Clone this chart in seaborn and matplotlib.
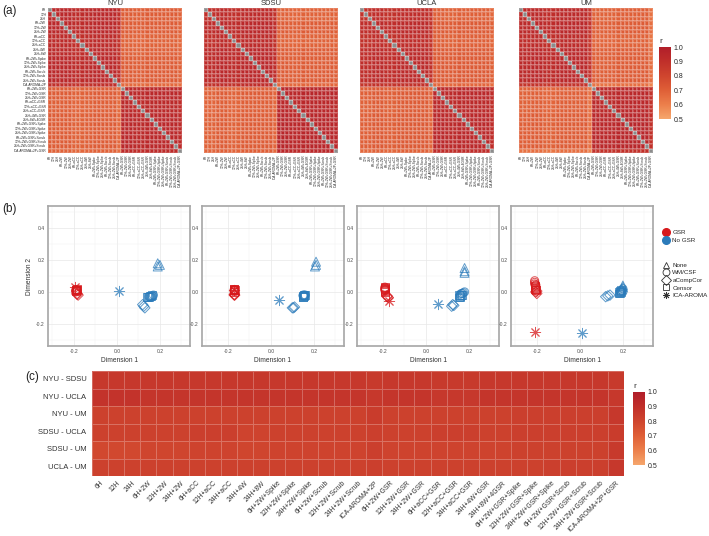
#Libraries----------------------------------------------------------------------

import numpy as np
import pandas as pd
import seaborn as sns
import matplotlib
matplotlib.use("Agg")
import matplotlib.pyplot as plt
from matplotlib.colors import LinearSegmentedColormap
from matplotlib.lines import Line2D


##Data----------------------------------------------------------------------

pipelines = ["6H", "12H", "24H", "6H+2W", "12H+2W", "24H+2W", "6H+aCC", "12H+aCC",
             "24H+aCC", "24H+4W", "24H+8W", "6H+2W+Spike", "12H+2W+Spike",
             "24H+2W+Spike", "6H+2W+Scrub", "12H+2W+Scrub", "24H+2W+Scrub",
             "ICA-AROMA+2P", "6H+2W+GSR", "12H+2W+GSR", "24H+2W+GSR", "6H+aCC+GSR",
             "12H+aCC+GSR", "24H+aCC+GSR", "24H+4W+GSR", "24H+8W+4GSR",
             "6H+2W+GSR+Spike", "12H+2W+GSR+Spike", "24H+2W+GSR+Spike",
             "6H+2W+GSR+Scrub", "12H+2W+GSR+Scrub", "24H+2W+GSR+Scrub",
             "ICA-AROMA+2P+GSR"]
gsr = ["No GSR"] * 18 + ["GSR"] * 15
strategy = (["None"] * 3 + ["WM/CSF"] * 3 + ["aCompCor"] * 3 + ["WM/CSF"] * 2
            + ["Censor"] * 6 + ["ICA-AROMA"]
            + ["WM/CSF"] * 3 + ["aCompCor"] * 3 + ["WM/CSF"] * 2
            + ["Censor"] * 6 + ["ICA-AROMA"])

sites = ["NYU", "SDSU", "UCLA", "UM"]

# (a) block level similarity per site: no-GSR block, GSR block, between blocks
within_nogsr = [0.94, 0.94, 0.93, 0.94]
within_gsr = [0.94, 0.95, 0.94, 0.95]
between = [0.71, 0.71, 0.72, 0.71]
# how far each pipeline sits from the rest of its block
nyu_dev = [0.00, 0.00, 0.00, 0.00, 0.00, 0.00, 0.02, 0.02, 0.02, 0.01, 0.01, 0.00,
           0.00, 0.00, 0.00, 0.00, 0.00, 0.04, 0.00, 0.00, 0.00, 0.01, 0.01, 0.01,
           0.00, 0.00, 0.00, 0.00, 0.00, 0.00, 0.00, 0.00, 0.02]
sdsu_dev = [0.02, 0.02, 0.02, 0.00, 0.00, 0.00, 0.02, 0.02, 0.02, 0.00, 0.00, 0.00,
            0.00, 0.00, 0.00, 0.00, 0.00, 0.03, 0.00, 0.00, 0.00, 0.01, 0.01, 0.01,
            0.00, 0.00, 0.00, 0.00, 0.00, 0.00, 0.00, 0.00, 0.01]
ucla_dev = [0.02, 0.02, 0.02, 0.00, 0.00, 0.00, 0.02, 0.02, 0.02, 0.00, 0.00, 0.00,
            0.00, 0.00, 0.00, 0.00, 0.00, 0.04, 0.00, 0.00, 0.00, 0.01, 0.01, 0.01,
            0.00, 0.00, 0.00, 0.00, 0.00, 0.00, 0.00, 0.00, 0.03]
um_dev = [0.01, 0.01, 0.01, 0.00, 0.00, 0.00, 0.02, 0.02, 0.02, 0.00, 0.00, 0.00,
          0.00, 0.00, 0.00, 0.00, 0.00, 0.06, 0.01, 0.01, 0.01, 0.01, 0.01, 0.01,
          0.00, 0.00, 0.00, 0.00, 0.00, 0.00, 0.00, 0.00, 0.06]
site_dev = [nyu_dev, sdsu_dev, ucla_dev, um_dev]

# (b) MDS coordinates per site, in pipeline order
nyu_dim1 = [0.19, 0.20, 0.19, 0.17, 0.165, 0.16, 0.12, 0.125, 0.13, 0.155, 0.15,
            0.14, 0.145, 0.15, 0.155, 0.16, 0.165, 0.01,
            -0.19, -0.19, -0.185, -0.185, -0.185, -0.18, -0.19, -0.19,
            -0.19, -0.185, -0.19, -0.19, -0.185, -0.19, -0.195]
nyu_dim2 = [0.18, 0.17, 0.16, -0.02, -0.025, -0.03, -0.08, -0.09, -0.10, -0.03, -0.03,
            -0.03, -0.03, -0.03, -0.025, -0.025, -0.02, 0.005,
            0.01, 0.015, 0.01, -0.01, -0.015, -0.02, 0.005, 0.0,
            0.01, 0.015, 0.005, 0.01, 0.02, 0.015, 0.03]
sdsu_dim1 = [0.21, 0.21, 0.205, 0.16, 0.155, 0.155, 0.105, 0.11, 0.10, 0.15, 0.15,
             0.15, 0.155, 0.15, 0.16, 0.155, 0.15, 0.04,
             -0.17, -0.17, -0.17, -0.17, -0.168, -0.17, -0.17, -0.17,
             -0.17, -0.172, -0.17, -0.17, -0.168, -0.17, -0.17]
sdsu_dim2 = [0.19, 0.17, 0.16, -0.02, -0.02, -0.025, -0.10, -0.095, -0.10, -0.02, -0.025,
             -0.025, -0.02, -0.03, -0.02, -0.025, -0.03, -0.05,
             0.01, 0.015, 0.005, -0.015, -0.02, -0.02, 0.0, 0.01,
             0.02, 0.01, 0.015, 0.0, 0.01, 0.02, 0.01]
ucla_dim1 = [0.18, 0.18, 0.18, 0.18, 0.175, 0.17, 0.125, 0.13, 0.12, 0.165, 0.16,
             0.155, 0.16, 0.165, 0.16, 0.155, 0.17, 0.055,
             -0.19, -0.19, -0.19, -0.18, -0.175, -0.18, -0.19, -0.19,
             -0.19, -0.19, -0.19, -0.19, -0.19, -0.19, -0.17]
ucla_dim2 = [0.15, 0.13, 0.12, 0.0, -0.005, -0.01, -0.08, -0.085, -0.09, -0.01, -0.015,
             -0.02, -0.025, -0.02, -0.03, -0.035, -0.02, -0.075,
             0.03, 0.02, 0.01, -0.03, -0.035, -0.025, 0.025, 0.015,
             0.0, 0.01, 0.02, 0.03, 0.025, 0.005, -0.06]
um_dim1 = [0.20, 0.20, 0.195, 0.20, 0.195, 0.19, 0.12, 0.13, 0.14, 0.20, 0.19,
           0.18, 0.185, 0.19, 0.185, 0.18, 0.19, 0.01,
           -0.21, -0.21, -0.21, -0.205, -0.20, -0.20, -0.205, -0.205,
           -0.21, -0.21, -0.205, -0.21, -0.205, -0.21, -0.21]
um_dim2 = [0.04, 0.03, 0.02, 0.02, 0.01, 0.005, -0.03, -0.025, -0.02, 0.0, 0.0,
           0.0, 0.005, 0.0, -0.005, -0.01, 0.01, -0.26,
           0.07, 0.06, 0.05, 0.0, -0.01, 0.005, 0.04, 0.045,
           0.03, 0.02, 0.01, 0.025, 0.015, 0.035, -0.25]
site_dim1 = [nyu_dim1, sdsu_dim1, ucla_dim1, um_dim1]
site_dim2 = [nyu_dim2, sdsu_dim2, ucla_dim2, um_dim2]

# (c) between-site similarity per pipeline
pairs = ["NYU - SDSU", "NYU - UCLA", "NYU - UM", "SDSU - UCLA", "SDSU - UM", "UCLA - UM"]
nyu_sdsu = [0.86, 0.86, 0.86, 0.86, 0.86, 0.86, 0.86, 0.86, 0.86, 0.86, 0.86, 0.86,
            0.86, 0.86, 0.86, 0.86, 0.86, 0.85, 0.86, 0.86, 0.86, 0.85, 0.85, 0.85,
            0.86, 0.86, 0.86, 0.86, 0.86, 0.86, 0.86, 0.86, 0.85]
nyu_ucla = [0.88, 0.88, 0.88, 0.87, 0.87, 0.87, 0.87, 0.87, 0.87, 0.87, 0.87, 0.87,
            0.87, 0.87, 0.87, 0.87, 0.87, 0.86, 0.87, 0.87, 0.87, 0.86, 0.86, 0.86,
            0.87, 0.87, 0.87, 0.87, 0.87, 0.87, 0.87, 0.87, 0.86]
nyu_um = [0.82, 0.82, 0.82, 0.82, 0.82, 0.82, 0.82, 0.82, 0.82, 0.82, 0.82, 0.82,
          0.82, 0.82, 0.82, 0.82, 0.82, 0.84, 0.82, 0.82, 0.82, 0.82, 0.82, 0.82,
          0.82, 0.82, 0.83, 0.83, 0.83, 0.83, 0.83, 0.83, 0.86]
sdsu_ucla = [0.82, 0.82, 0.82, 0.82, 0.82, 0.82, 0.83, 0.83, 0.83, 0.81, 0.81, 0.82,
             0.82, 0.82, 0.82, 0.82, 0.82, 0.83, 0.82, 0.82, 0.82, 0.83, 0.83, 0.83,
             0.82, 0.82, 0.83, 0.83, 0.83, 0.83, 0.83, 0.83, 0.84]
sdsu_um = [0.79, 0.79, 0.79, 0.80, 0.80, 0.80, 0.81, 0.81, 0.81, 0.80, 0.80, 0.81,
           0.81, 0.81, 0.81, 0.81, 0.81, 0.83, 0.81, 0.81, 0.81, 0.81, 0.81, 0.81,
           0.81, 0.81, 0.82, 0.82, 0.82, 0.82, 0.82, 0.82, 0.85]
ucla_um = [0.82, 0.82, 0.82, 0.82, 0.82, 0.82, 0.82, 0.82, 0.82, 0.82, 0.82, 0.82,
           0.82, 0.82, 0.82, 0.82, 0.82, 0.83, 0.82, 0.82, 0.82, 0.82, 0.82, 0.82,
           0.82, 0.82, 0.82, 0.82, 0.83, 0.83, 0.83, 0.83, 0.86]
pair_values = [nyu_sdsu, nyu_ucla, nyu_um, sdsu_ucla, sdsu_um, ucla_um]

shape_order = ["None", "WM/CSF", "aCompCor", "Censor", "ICA-AROMA"]


##Style----------------------------------------------------------------------

sns.set_style("white")
plt.rcParams["font.family"] = ["Liberation Sans", "DejaVu Sans"]

cmap = LinearSegmentedColormap.from_list(
    "r_scale", ["#F5A66C", "#EC7F4B", "#DF5F37", "#CF452E", "#C02F2A", "#B11E2A"])
colors = {"GSR": "#D7191C", "No GSR": "#2B7BBA"}
markers = {"None": "^", "WM/CSF": "o", "aCompCor": "D", "Censor": "s",
           "ICA-AROMA": (8, 2, 0)}
marker_size = {"None": 42, "WM/CSF": 34, "aCompCor": 28, "Censor": 32, "ICA-AROMA": 55}
grid_line = (1, 1, 1, 0.18)

W, H = 709, 536
fig = plt.figure(figsize=(W / 100, H / 100), dpi=100)


def px_axes(x0, y0, x1, y1):
    return fig.add_axes([x0 / W, 1 - y1 / H, (x1 - x0) / W, (y1 - y0) / H])


##(a) within-site pipeline similarity----------------------------------------------------------------------

a_left = [48, 204, 360, 519]
cax_a = px_axes(659, 47, 671, 119)
for k, site in enumerate(sites):
    g = np.array([0 if x == "No GSR" else 1 for x in gsr])
    dev = np.array(site_dev[k])
    block = np.array([[within_nogsr[k], between[k]], [between[k], within_gsr[k]]])
    mat = block[g][:, g] - dev[:, None] - dev[None, :]
    np.fill_diagonal(mat, np.nan)
    df = pd.DataFrame(mat, index=pipelines, columns=pipelines)

    ax = px_axes(a_left[k], 8, a_left[k] + 134, 153)
    ax.set_facecolor("#8C8C8C")
    sns.heatmap(df, ax=ax, cmap=cmap, vmin=0.5, vmax=1.0,
                cbar=(k == 3), cbar_ax=cax_a if k == 3 else None,
                linewidths=0.2, linecolor=grid_line,
                xticklabels=True, yticklabels=(k == 0))
    ax.set_title(site, fontsize=5.5, color="#333333", pad=2)
    ax.tick_params(axis="x", labelsize=2.3, rotation=90, length=0.8, width=0.3, pad=0.5)
    ax.tick_params(axis="y", labelsize=2.3, rotation=0, length=0.8, width=0.3, pad=0.5)

cax_a.set_title("r", fontsize=6, loc="left", color="#333333", pad=3)
cax_a.tick_params(labelsize=5, length=2, width=0.4, color="white", direction="in", pad=2)
cax_a.set_yticks([0.5, 0.6, 0.7, 0.8, 0.9, 1.0])

##(b) MDS of pipelines----------------------------------------------------------------------

b_left = [48, 202, 357, 511]
for k, site in enumerate(sites):
    pts = pd.DataFrame({"dim1": site_dim1[k], "dim2": site_dim2[k],
                        "gsr": gsr, "strategy": strategy})
    ax = px_axes(b_left[k], 206, b_left[k] + 142, 346)
    for shape in shape_order:
        for grp in ["GSR", "No GSR"]:
            sub = pts[(pts["strategy"] == shape) & (pts["gsr"] == grp)]
            if len(sub) == 0:
                continue
            if shape == "ICA-AROMA":
                # line-art marker: colour goes on the face
                ax.scatter(sub["dim1"], sub["dim2"], marker=markers[shape],
                           s=marker_size[shape], color=colors[grp],
                           linewidths=0.7, alpha=0.75, zorder=3)
            else:
                ax.scatter(sub["dim1"], sub["dim2"], marker=markers[shape],
                           s=marker_size[shape], facecolors="none",
                           edgecolors=colors[grp], linewidths=0.7, alpha=0.75, zorder=3)
    ax.set_xlim(-0.32, 0.34)
    ax.set_ylim(-0.34, 0.54)
    ax.set_xticks([-0.2, 0.0, 0.2])
    ax.set_yticks([-0.2, 0.0, 0.2, 0.4])
    ax.set_xticks([-0.3, -0.1, 0.1, 0.3], minor=True)
    ax.set_yticks([-0.3, -0.1, 0.1, 0.3, 0.5], minor=True)
    ax.xaxis.set_major_formatter(plt.FormatStrFormatter("%.1f"))
    ax.yaxis.set_major_formatter(plt.FormatStrFormatter("%.1f"))
    ax.grid(which="major", color="#E8E8E8", lw=0.5)
    ax.grid(which="minor", color="#F2F2F2", lw=0.35)
    ax.set_axisbelow(True)
    for sp in ax.spines.values():
        sp.set_color("#A6A6A6")
        sp.set_linewidth(1.2)
    ax.tick_params(which="major", labelsize=3.6, length=1.5, width=0.4,
                   color="#4D4D4D", labelcolor="#4D4D4D", pad=1)
    ax.tick_params(which="minor", length=0)
    ax.set_xlabel("Dimension 1", fontsize=4.8, color="#333333", labelpad=2)
    if k == 0:
        ax.set_ylabel("Dimension 2", fontsize=4.8, color="#333333", labelpad=2)

gsr_handles = [Line2D([], [], ls="none", marker="o", ms=5.5, color=colors[g], label=g)
               for g in ["GSR", "No GSR"]]
shape_handles = [Line2D([], [], ls="none", marker=markers[s], ms=5, mfc="none",
                        mec="#333333", color="#333333", mew=0.6, label=s)
                 for s in shape_order]
fig.legend(handles=gsr_handles, loc="upper left", bbox_to_anchor=(0.929, 0.578),
           frameon=False, fontsize=4.5, handletextpad=0.5, labelspacing=0.5,
           borderpad=0, handlelength=1.2)
fig.legend(handles=shape_handles, loc="upper left", bbox_to_anchor=(0.929, 0.516),
           frameon=False, fontsize=4.5, handletextpad=0.5, labelspacing=0.35,
           borderpad=0, handlelength=1.2)

##(c) between-site similarity----------------------------------------------------------------------

df_c = pd.DataFrame(pair_values, index=pairs, columns=pipelines)
axc = px_axes(92, 371, 624, 476)
cax_c = px_axes(633, 392, 645, 465)
sns.heatmap(df_c, ax=axc, cmap=cmap, vmin=0.5, vmax=1.0, cbar_ax=cax_c,
            linewidths=0.5, linecolor=(1, 1, 1, 0.25), xticklabels=True, yticklabels=True)
axc.tick_params(axis="y", labelsize=5.5, rotation=0, length=2, width=0.4,
                labelcolor="#333333", pad=2)
axc.tick_params(axis="x", labelsize=4.9, length=2, width=0.4, labelcolor="#333333", pad=0.5)
plt.setp(axc.get_xticklabels(), rotation=45, ha="right", rotation_mode="anchor")
cax_c.set_title("r", fontsize=6, loc="left", color="#333333", pad=3)
cax_c.tick_params(labelsize=5, length=2, width=0.4, color="white", direction="in", pad=2)
cax_c.set_yticks([0.5, 0.6, 0.7, 0.8, 0.9, 1.0])

##Panel letters----------------------------------------------------------------------

fig.text(2 / W, 1 - 14 / H, "(a)", fontsize=8.5, color="#222222")
fig.text(2 / W, 1 - 212 / H, "(b)", fontsize=8.5, color="#222222")
fig.text(25 / W, 1 - 380 / H, "(c)", fontsize=8.5, color="#222222")

fig.savefig("out.png", dpi=100)
